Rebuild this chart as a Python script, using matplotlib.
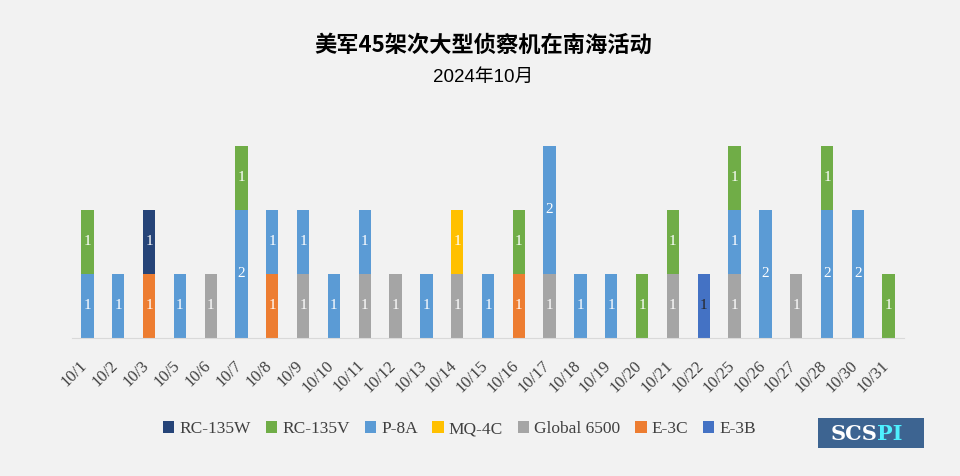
import numpy as np
import matplotlib
matplotlib.use("Agg")
import matplotlib.pyplot as plt
from matplotlib.patches import Patch
from matplotlib.transforms import ScaledTranslation

dates = ["10/1", "10/2", "10/3", "10/5", "10/6", "10/7", "10/8", "10/9", "10/10",
         "10/11", "10/12", "10/13", "10/14", "10/15", "10/16", "10/17", "10/18",
         "10/19", "10/20", "10/21", "10/22", "10/25", "10/26", "10/27", "10/28",
         "10/30", "10/31"]

#             1  2  3  5  6  7  8  9 10 11 12 13 14 15 16 17 18 19 20 21 22 25 26 27 28 30 31
rc135w   = [0, 0, 1, 0, 0, 0, 0, 0, 0, 0, 0, 0, 0, 0, 0, 0, 0, 0, 0, 0, 0, 0, 0, 0, 0, 0, 0]
rc135v   = [1, 0, 0, 0, 0, 1, 0, 0, 0, 0, 0, 0, 0, 0, 1, 0, 0, 0, 1, 1, 0, 1, 0, 0, 1, 0, 1]
p8a      = [1, 1, 0, 1, 0, 2, 1, 1, 1, 1, 0, 1, 0, 1, 0, 2, 1, 1, 0, 0, 0, 1, 2, 0, 2, 2, 0]
mq4c     = [0, 0, 0, 0, 0, 0, 0, 0, 0, 0, 0, 0, 1, 0, 0, 0, 0, 0, 0, 0, 0, 0, 0, 0, 0, 0, 0]
global65 = [0, 0, 0, 0, 1, 0, 0, 1, 0, 1, 1, 0, 1, 0, 0, 1, 0, 0, 0, 1, 0, 1, 0, 1, 0, 0, 0]
e3c      = [0, 0, 1, 0, 0, 0, 1, 0, 0, 0, 0, 0, 0, 0, 1, 0, 0, 0, 0, 0, 0, 0, 0, 0, 0, 0, 0]
e3b      = [0, 0, 0, 0, 0, 0, 0, 0, 0, 0, 0, 0, 0, 0, 0, 0, 0, 0, 0, 0, 1, 0, 0, 0, 0, 0, 0]

# legend order (top of stack first)
names = ["RC-135W", "RC-135V", "P-8A", "MQ-4C", "Global 6500", "E-3C", "E-3B"]
series = [rc135w, rc135v, p8a, mq4c, global65, e3c, e3b]
colors = ["#264478", "#70ad47", "#5b9bd5", "#ffc000", "#a5a5a5", "#ed7d31", "#4472c4"]

bg = "#f2f2f2"
serif = "Liberation Serif"
cjk = ["Noto Sans CJK SC", "DejaVu Sans"]

fig = plt.figure(figsize=(9.6, 4.76), dpi=100, facecolor=bg)
ax = fig.add_axes([0.075, 0.29, 0.8667, 0.4034], facecolor=bg)

x = np.arange(len(dates))
bottom = np.zeros(len(dates))
# stack from bottom: E-3B, E-3C, Global, MQ-4C, P-8A, RC-135V, RC-135W
for name, vals, col in reversed(list(zip(names, series, colors))):
    vals = np.array(vals, dtype=float)
    ax.bar(x, vals, 0.4, bottom=bottom, color=col, edgecolor="none")
    txtcol = "#262626" if name == "E-3B" else "white"
    for xi, v, b in zip(x, vals, bottom):
        if v > 0:
            ax.text(xi, b + v / 2, str(int(v)), ha="center", va="center",
                    color=txtcol, fontsize=11, family=serif)
    bottom += vals

ax.set_xlim(-0.5, len(dates) - 0.5)
ax.set_ylim(0, 3)
ax.set_yticks([])
for s in ["top", "right", "left"]:
    ax.spines[s].set_visible(False)
ax.spines["bottom"].set_color("#d9d9d9")
ax.set_xticks(x)
ax.set_xticklabels(dates, rotation=45, ha="right", va="top", rotation_mode="anchor",
                   fontsize=12, family=serif, color="#404040")
ax.tick_params(axis="x", length=0, pad=14)
shift = ScaledTranslation(-8 / 100, 0, fig.dpi_scale_trans)
for lab in ax.get_xticklabels():
    lab.set_transform(lab.get_transform() + shift)

fig.text(0.503, 0.905, "美军45架次大型侦察机在南海活动", ha="center", va="center",
         fontsize=16, fontweight="bold", family=cjk, color="black")
fig.text(0.503, 0.838, "2024年10月", ha="center", va="center",
         fontsize=13.5, family=["Liberation Sans", "Noto Sans CJK SC"], color="black")

handles = [Patch(facecolor=c, edgecolor="none") for c in colors]
fig.legend(handles, names, loc="center left", bbox_to_anchor=(0.17, 0.098), ncol=7,
           frameon=False, prop={"family": serif, "size": 12.5}, handlelength=0.65,
           handleheight=0.65, handletextpad=0.3, columnspacing=0.85, labelcolor="#404040",
           borderpad=0, borderaxespad=0)

# SCSPI logo box
logo = fig.add_axes([818 / 960, 1 - 448 / 476, 106 / 960, 30 / 476])
logo.set_facecolor("#3d6491")
logo.set_xticks([])
logo.set_yticks([])
for s in logo.spines.values():
    s.set_visible(False)
logo.text(0.56, 0.47, "SCS", ha="right", va="center", color="white", fontsize=15,
          fontweight="bold", family="DejaVu Serif", transform=logo.transAxes)
logo.text(0.56, 0.47, "PI", ha="left", va="center", color="#4ef0ff", fontsize=15,
          fontweight="bold", family="DejaVu Serif", transform=logo.transAxes)

fig.savefig("out.png", dpi=100, facecolor=bg)
